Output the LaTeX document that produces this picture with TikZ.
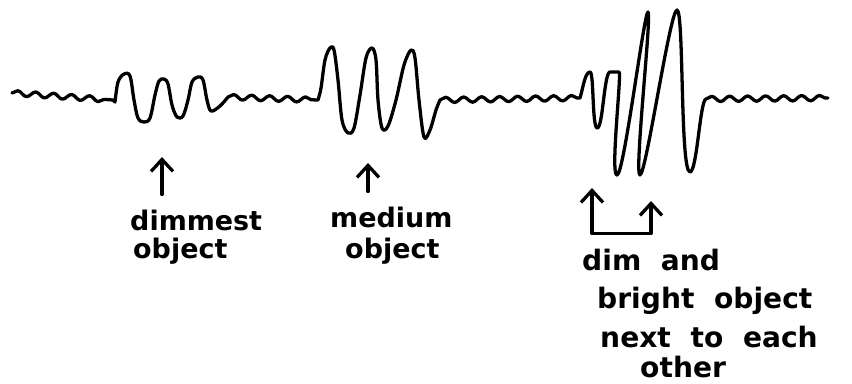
\documentclass[tikz,border=0pt]{standalone}
\usepackage{fontspec}
\newfontfamily\handfont{DejaVu Sans}
\newcommand\pairfont{\handfont\bfseries\fontsize{24}{28}\selectfont\spaceskip=.7em\relax}
\usetikzlibrary{arrows.meta,decorations.pathmorphing}

\tikzset{
  hbarb/.tip={Straight Barb[length=3.6mm,width=6.6mm]},
  trace/.style={line width=2.8pt},
  noise/.style={decoration={snake,amplitude=.8mm,segment length=5.4mm}},
  pointer/.style={line width=2.8pt,-hbarb},
  lbl/.style={font=\handfont\bfseries\fontsize{23}{28}\selectfont,inner sep=0pt,outer ysep=4.5mm,anchor=base west},
  pairlbl/.style={lbl,font=\pairfont},
}

\begin{document}
\begin{tikzpicture}[x=0.03cm,y=-0.03cm,line cap=round,line join=round]
\useasboundingbox (0,0) rectangle (852,383);

% the trace
\draw[trace]
  decorate[noise]{(12,93) -- (113,100)}
  -- plot[smooth,tension=.55] coordinates {(115,102) (118,82) (124,74) (130,76) (134,100) (138,118) (144,122) (150,118) (155,95) (159,81) (164,79) (168,84) (172,105) (177,117) (183,116) (188,100) (192,82) (198,77) (203,80) (207,100) (211,111) (220,106) (228,97)}
  decorate[noise]{(228,97) -- (318,100)}
  -- plot[smooth,tension=.55] coordinates {(318,100) (321,88) (325,60) (330,48) (334,50) (338,80) (342,120) (348,133) (354,128) (360,95) (366,58) (372,48) (376,60) (378,100) (382,128) (388,126) (396,100) (404,65) (411,50) (415,58) (419,100) (424,137) (430,130) (436,110) (440,100)}
  decorate[noise]{(440,100) -- (580,98)}
  .. controls (583,88) and (585,72) .. (590,72)
  .. controls (594,72) and (592,126) .. (597,128)
  .. controls (603,129) and (604,72) .. (610,72)
  -- (619,72)
  .. controls (622,72) and (610,175) .. (617,175)
  .. controls (624,175) and (644,12) .. (648,12)
  .. controls (652,12) and (634,175) .. (640,175)
  .. controls (646,175) and (670,10) .. (677,10)
  .. controls (684,10) and (680,172) .. (690,172)
  .. controls (697,172) and (700,100) .. (706,99)
  decorate[noise]{(706,99) -- (828,98)};

% labels
\node[lbl] (dimmestA) at (130,230) {dimmest};
\node[lbl] (dimmestB) at (133,258) {object};
\node[lbl] (mediumA) at (330,227) {medium};
\node[lbl] (mediumB) at (345,258) {object};
\node[pairlbl] (pairA) at (582,270) {dim and};
\node[pairlbl] (pairB) at (597,308) {bright object};
\node[pairlbl] (pairC) at (600,347) {next to each};
\node[pairlbl] (pairD) at (640,377) {other};

% arrows
\coordinate (tipdimmest) at (162,157);
\coordinate (tipmedium) at (368,163);
\coordinate (tipdim) at (592,188);
\coordinate (tipbright) at (651,201);
\draw[pointer] (tipdimmest |- dimmestA.north) -- (tipdimmest);
\draw[pointer] (tipmedium |- mediumA.north) -- (tipmedium);
\draw[pointer,hbarb-hbarb] (tipdim) -- (tipdim |- pairA.north) -| (tipbright);
\end{tikzpicture}
\end{document}
